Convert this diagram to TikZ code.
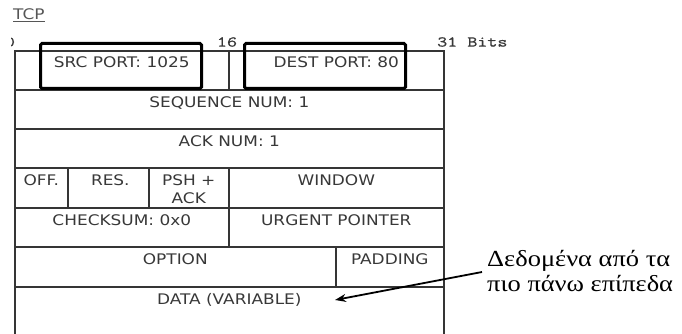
\documentclass[tikz,border=0pt]{standalone}
\usepackage{fontspec}
\usetikzlibrary{arrows.meta}
\newfontfamily\fieldfont[FakeStretch=1.16]{DejaVu Sans}
\newfontfamily\bitfont[FakeStretch=1.3,FakeBold=1]{Latin Modern Mono}
\newfontfamily\notefont[FakeStretch=1.15]{Liberation Serif}
\definecolor{rulegray}{HTML}{353535}
\definecolor{textgray}{HTML}{383838}

\begin{document}
\begin{tikzpicture}[x=1pt, y=-1pt, inner sep=0pt, >=Stealth]
\tikzset{
  field/.style={draw=rulegray, line width=1.6pt, anchor=north west, minimum height=39pt},
  ftext/.style={font=\fieldfont\fontsize{14.6}{18}\selectfont, text=textgray, align=center,
                text height=10.6pt, text depth=0pt},
  bits/.style={font=\bitfont\fontsize{15}{18}\selectfont, text=textgray},
  portbox/.style={draw=black, line width=3pt, rounded corners=1.5pt, anchor=north west}
}
\useasboundingbox (0,0) rectangle (682,334);

% header
\node[ftext, text=textgray!85, anchor=west] (title) at (13,14) {\underline{TCP}};
\begin{scope}
  \clip (11,30) rectangle (30,50);
  \node[bits] (bit0) at (10,42) {0};
\end{scope}
\node[bits] (bit16) at (227,42) {16};
\node[bits, anchor=west] (bit31) at (437,42) {31 Bits};

% fields
\node[field, minimum width=214pt] (srcf) at (14,50) {};
\node[field, minimum width=215pt] (destf) at (228,50) {};
\node[field, minimum width=429pt] (seqf) at (14,89) {};
\node[field, minimum width=429pt] (ackf) at (14,128) {};
\node[field, minimum width=53pt, minimum height=40pt] (offf) at (14,167) {};
\node[field, minimum width=81pt, minimum height=40pt] (resf) at (67,167) {};
\node[field, minimum width=80pt, minimum height=40pt] (flagf) at (148,167) {};
\node[field, minimum width=215pt, minimum height=40pt] (winf) at (228,167) {};
\node[field, minimum width=214pt] (sumf) at (14,207) {};
\node[field, minimum width=215pt] (urgf) at (228,207) {};
\node[field, minimum width=321pt, minimum height=40pt] (optf) at (14,246) {};
\node[field, minimum width=108pt, minimum height=40pt] (padf) at (335,246) {};
\node[field, minimum width=429pt, minimum height=60pt] (dataf) at (14,286) {};

% field texts
\node[ftext] (srct) at ([yshift=-12pt]srcf.north) {SRC PORT: 1025};
\node[ftext] (destt) at ([yshift=-12pt]destf.north) {DEST PORT: 80};
\node[ftext] (seqt) at ([yshift=-13pt]seqf.north) {SEQUENCE NUM: 1};
\node[ftext] (ackt) at ([yshift=-13pt]ackf.north) {ACK NUM: 1};
\node[ftext] (offt) at ([yshift=-13pt]offf.north) {OFF.};
\node[ftext] (rest) at ([xshift=2pt,yshift=-13pt]resf.north) {RES.};
\node[ftext] (flagt) at ([yshift=-31pt]flagf.north) {PSH +\\ACK};
\node[ftext] (wint) at ([yshift=-13pt]winf.north) {WINDOW};
\node[ftext] (sumt) at ([yshift=-13pt]sumf.north) {CHECKSUM: 0x0};
\node[ftext] (urgt) at ([yshift=-13pt]urgf.north) {URGENT POINTER};
\node[ftext] (optt) at ([yshift=-13pt]optf.north) {OPTION};
\node[ftext] (padt) at ([yshift=-13pt]padf.north) {PADDING};
\node[ftext] (datat) at ([yshift=-13pt]dataf.north) {DATA (VARIABLE)};

% highlighted ports
\node[portbox, minimum width=161pt, minimum height=45pt] (srcbox) at (39,42) {};
\node[portbox, minimum width=161pt, minimum height=45pt] (destbox) at (243,42) {};

% note
\node[font=\notefont\fontsize{23}{25}\selectfont, anchor=south west, align=left,
      text depth=0pt] (note) at (487,292)
  {Δεδομένα από τα\\πιο πάνω επίπεδα};
\coordinate (datatip) at (335,300);
\draw[-{Stealth[length=11pt,width=8pt]}, line width=1.8pt] ([xshift=-5pt,yshift=20pt]note.south west) -- (datatip);
\end{tikzpicture}
\end{document}
